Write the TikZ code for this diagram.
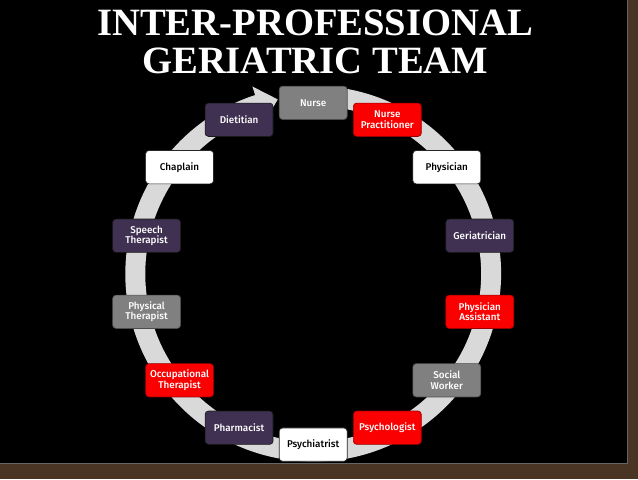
\documentclass[tikz,border=0pt]{standalone}
\usepackage{fontspec}
\usepackage{tikz}
\setmainfont{Liberation Serif}
\setsansfont{Fira Sans}[UprightFont=* Medium]
\definecolor{panelbrown}{RGB}{74,52,36}
\definecolor{ringgray}{RGB}{217,217,217}
\definecolor{rolegray}{RGB}{128,128,128}
\definecolor{rolered}{RGB}{250,0,0}
\definecolor{rolepurple}{RGB}{64,49,82}

\begin{document}
\begin{tikzpicture}[x=0.75pt, y=0.75pt, every node/.style={rounded corners=2.5pt, draw=black!85, line width=0.5pt, minimum width=51pt, minimum height=25pt, align=center, inner sep=1pt, font=\sffamily\fontsize{7.4}{7.8}\selectfont}]
	\tikzset{graybox/.style={fill=rolegray, draw=black!70, text=white}}
	\tikzset{redbox/.style={fill=rolered, draw=red!60!black, text=white}}
	\tikzset{purplebox/.style={fill=rolepurple, draw=black!90, text=white}}
	\tikzset{whitebox/.style={fill=white, draw=black!85, text=black}}
	\tikzset{titletext/.style={draw=none, text=white, anchor=base, inner sep=0pt, minimum width=0pt, minimum height=0pt, font=\rmfamily\bfseries\fontsize{29}{29}\selectfont}}
	\fill[panelbrown] (0,0) rectangle (638,479);
	\fill[black] (0,16) rectangle (627,479);
	\draw[black!60, line width=0.6pt] (0,16) -- (627,16) -- (627,479);
	\node[titletext] (title1) at (315,444) {INTER-PROFESSIONAL};
	\node[titletext] (title2) at (315,406) {GERIATRIC TEAM};
	\begin{scope}[shift={(313,205.5)}]
	\fill[ringgray] (82:188) arc[start angle=82, end angle=-252, radius=188]
		-- (-252:197) -- (-258.5:178) -- (-252:159) -- (-252:168)
		arc[start angle=-252, end angle=82, radius=168] -- cycle;
	\node[graybox]   (nurse)        at (90:171)     {Nurse};
	\node[redbox]    (practitioner) at (64.29:171)  {Nurse\\Practitioner};
	\node[whitebox]  (physician)    at (38.57:171)  {Physician};
	\node[purplebox] (geriatrician) at (12.86:171)  {Geriatrician};
	\node[redbox]    (assistant)    at (-12.86:171) {Physician\\Assistant};
	\node[graybox]   (social)       at (-38.57:171) {Social\\Worker};
	\node[redbox]    (psychologist) at (-64.29:171) {Psychologist};
	\node[whitebox]  (psychiatrist) at (-90:171)    {Psychiatrist};
	\node[purplebox] (pharmacist)   at (-115.71:171) {Pharmacist};
	\node[redbox]    (occupational) at (-141.43:171) {Occupational\\Therapist};
	\node[graybox]   (physical)     at (-167.14:171) {Physical\\Therapist};
	\node[purplebox] (speech)       at (167.14:171) {Speech\\Therapist};
	\node[whitebox]  (chaplain)     at (141.43:171) {Chaplain};
	\node[purplebox] (dietitian)    at (115.71:171) {Dietitian};
	\end{scope}
\end{tikzpicture}
\end{document}
